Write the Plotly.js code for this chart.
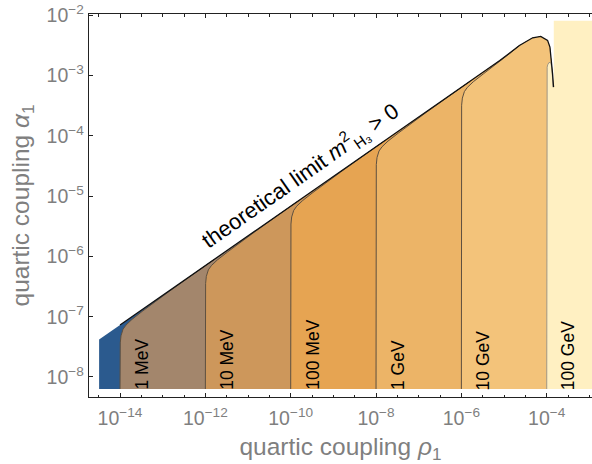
<!DOCTYPE html>
<html><head><meta charset="utf-8">
<script src="https://cdn.plot.ly/plotly-3.0.1.min.js"></script>
<style>html,body{margin:0;padding:0;background:#fff}#chart{width:592px;height:464px}</style>
</head><body><div id="chart"></div>
<script>
// All values are log10 of the couplings.
const floorLogAlpha = -8.2;

const limitLogRho   = [-14.49, -14.0, -13, -12, -11, -10, -9, -8, -7, -6, -5.1, -4.64, -4.33, -4.14, -3.98, -3.925, -3.887, -3.864, -3.84];
const limitLogAlpha = [-7.38, -7.138, -6.645, -6.152, -5.659, -5.166, -4.673, -4.18, -3.687, -3.194, -2.75, -2.50, -2.372, -2.35, -2.415, -2.525, -2.745, -2.965, -3.19];

const c1MeVLogRho     = [-14, -14, -13.994, -13.977, -13.93, -13.86, -13.72, -13.48, -13.18, -12.83, -12.36, -11.8];
const c1MeVLogAlpha   = [-8.2, -7.538, -7.435, -7.317, -7.209, -7.139, -7.045, -6.912, -6.752, -6.572, -6.335, -6.054];
const c10MeVLogRho    = [-12, -12, -11.994, -11.977, -11.93, -11.86, -11.72, -11.48, -11.18, -10.83, -10.36, -9.8];
const c10MeVLogAlpha  = [-8.2, -6.552, -6.449, -6.331, -6.223, -6.153, -6.059, -5.926, -5.766, -5.586, -5.349, -5.068];
const c100MeVLogRho   = [-10, -10, -9.994, -9.977, -9.93, -9.86, -9.72, -9.48, -9.18, -8.83, -8.36, -7.8];
const c100MeVLogAlpha = [-8.2, -5.566, -5.463, -5.345, -5.237, -5.167, -5.073, -4.94, -4.78, -4.60, -4.363, -4.082];
const c1GeVLogRho     = [-8, -8, -7.994, -7.977, -7.93, -7.86, -7.72, -7.48, -7.18, -6.83, -6.36, -5.8];
const c1GeVLogAlpha   = [-8.2, -4.58, -4.477, -4.359, -4.251, -4.181, -4.087, -3.954, -3.794, -3.614, -3.377, -3.096];
const c10GeVLogRho    = [-6, -6, -5.994, -5.977, -5.93, -5.86, -5.72, -5.48, -5.18, -4.83, -4.64];
const c10GeVLogAlpha  = [-8.2, -3.594, -3.491, -3.373, -3.265, -3.195, -3.101, -2.968, -2.808, -2.613, -2.50];
const c100GeVLogRho   = [-4, -4, -3.99, -3.977, -3.95, -3.92, -3.90, -3.88, -3.865, -3.85];
const c100GeVLogAlpha = [-8.2, -2.95, -2.86, -2.82, -2.785, -2.78, -2.80, -2.87, -3.0, -3.19];

const paleBlockLogRho   = [-3.835, -3.835, -2.9, -2.9];
const paleBlockLogAlpha = [-3.19, -2.087, -2.087, -8.2];

const massLabels      = ["1 MeV", "10 MeV", "100 MeV", "1 GeV", "10 GeV", "100 GeV"];
const massLabelLogRho = [-14, -12, -10, -8, -6, -4];

const regionColors = ["#2b5a8e", "#a3866c", "#cd975b", "#e6a452", "#ecb467", "#f3c37a", "#fff0c2"];

const xTickLogVals = [-14, -12, -10, -8, -6, -4];
const xTickText = ["10<sup>−14</sup>", "10<sup>−12</sup>", "10<sup>−10</sup>", "10<sup>−8</sup>", "10<sup>−6</sup>", "10<sup>−4</sup>"];
const xMinorLogVals = [-14.5, -13.5, -13, -12.5, -11.5, -11, -10.5, -9.5, -9, -8.5, -7.5, -7, -6.5, -5.5, -5, -4.5, -3.5, -3];
const yTickLogVals = [-8, -7, -6, -5, -4, -3, -2];
const yTickText = ["10<sup>−8</sup>", "10<sup>−7</sup>", "10<sup>−6</sup>", "10<sup>−5</sup>", "10<sup>−4</sup>", "10<sup>−3</sup>", "10<sup>−2</sup>"];

const p10 = v => Math.pow(10, v);

const contours = [
  [c1MeVLogRho, c1MeVLogAlpha], [c10MeVLogRho, c10MeVLogAlpha], [c100MeVLogRho, c100MeVLogAlpha],
  [c1GeVLogRho, c1GeVLogAlpha], [c10GeVLogRho, c10GeVLogAlpha]
];

const traces = [];
{
  const lr = [limitLogRho[0], ...limitLogRho, limitLogRho[limitLogRho.length - 1]];
  const la = [floorLogAlpha, ...limitLogAlpha, floorLogAlpha];
  traces.push({x: lr.map(p10), y: la.map(p10), mode: 'lines', fill: 'toself', fillcolor: regionColors[0], line: {width: 0}, hoverinfo: 'skip'});
}
contours.forEach((c, i) => {
  const [cr, ca] = c;
  const last = cr[cr.length - 1];
  const lr = [...cr], la = [...ca];
  limitLogRho.forEach((r, j) => { if (r > last) { lr.push(r); la.push(limitLogAlpha[j]); } });
  lr.push(limitLogRho[limitLogRho.length - 1]); la.push(floorLogAlpha);
  traces.push({x: lr.map(p10), y: la.map(p10), mode: 'lines', fill: 'toself', fillcolor: regionColors[i + 1], line: {width: 0}, hoverinfo: 'skip'});
});
{
  const lr = [...c100GeVLogRho, ...paleBlockLogRho];
  const la = [...c100GeVLogAlpha, ...paleBlockLogAlpha];
  traces.push({x: lr.map(p10), y: la.map(p10), mode: 'lines', fill: 'toself', fillcolor: regionColors[6], line: {width: 0}, hoverinfo: 'skip'});
}
contours.forEach(c => {
  traces.push({x: c[0].map(p10), y: c[1].map(p10), mode: 'lines', line: {color: '#5e5040', width: 1}, hoverinfo: 'skip'});
});
traces.push({x: c100GeVLogRho.map(p10), y: c100GeVLogAlpha.map(p10), mode: 'lines', line: {color: '#a09684', width: 1}, hoverinfo: 'skip'});
{
  const lr = limitLogRho.slice(1), la = limitLogAlpha.slice(1);
  traces.push({x: lr.map(p10), y: la.map(p10), mode: 'lines', line: {color: '#111', width: 1.3}, hoverinfo: 'skip'});
}

const tickFont = {family: 'Liberation Sans, Arial, sans-serif', size: 19.5, color: '#7f7f7f'};
const titleFont = {family: 'Liberation Sans, Arial, sans-serif', size: 24.5, color: '#7f7f7f'};

const annotations = massLabels.map((t, i) => ({
  x: massLabelLogRho[i], y: floorLogAlpha, xref: 'x', yref: 'y',
  text: t, textangle: -90, showarrow: false,
  xanchor: 'center', yanchor: 'bottom', xshift: 22, yshift: -3,
  font: {family: 'Liberation Sans, Arial, sans-serif', size: 17.5, color: '#000'}
}));
annotations.push({
  x: -9.78, y: -4.66, xref: 'x', yref: 'y',
  text: 'theoretical limit <i>m</i><sup>2</sup><sub>H₃</sub> > 0',
  textangle: -35, showarrow: false, xanchor: 'center', yanchor: 'middle',
  font: {family: 'Liberation Sans, Arial, sans-serif', size: 22, color: '#000'}
});

const layout = {
  width: 592, height: 464,
  margin: {l: 89, r: 0, t: 14, b: 67},
  paper_bgcolor: '#fff', plot_bgcolor: '#fff',
  showlegend: false,
  xaxis: {
    type: 'log', range: [-14.727, -2.939],
    tickmode: 'array', tickvals: xTickLogVals.map(p10), ticktext: xTickText,
    ticks: 'inside', ticklen: 4, tickwidth: 1, tickcolor: '#222', ticklabelstandoff: 3,
    showline: true, linecolor: '#222', linewidth: 1.3, mirror: 'ticks',
    showgrid: false, zeroline: false, tickfont: tickFont,
    minor: {tickmode: 'array', tickvals: xMinorLogVals.map(p10), ticks: 'inside', ticklen: 2.5, tickwidth: 1, tickcolor: '#222', showgrid: false},
    title: {text: 'quartic coupling <i>ρ</i><sub>1</sub>', font: titleFont, standoff: 16},
    automargin: false
  },
  yaxis: {
    type: 'log', range: [-8.333, -1.977],
    tickmode: 'array', tickvals: yTickLogVals.map(p10), ticktext: yTickText,
    ticks: 'inside', ticklen: 4, tickwidth: 1, tickcolor: '#222',
    showline: true, linecolor: '#222', linewidth: 1.3, mirror: false,
    showgrid: false, zeroline: false, tickfont: tickFont,
    title: {text: 'quartic coupling <i>α</i><sub>1</sub>', font: titleFont, standoff: 10},
    automargin: false
  },
  annotations: annotations
};

Plotly.newPlot('chart', traces, layout, {staticPlot: true, displayModeBar: false});
</script>
</body></html>
